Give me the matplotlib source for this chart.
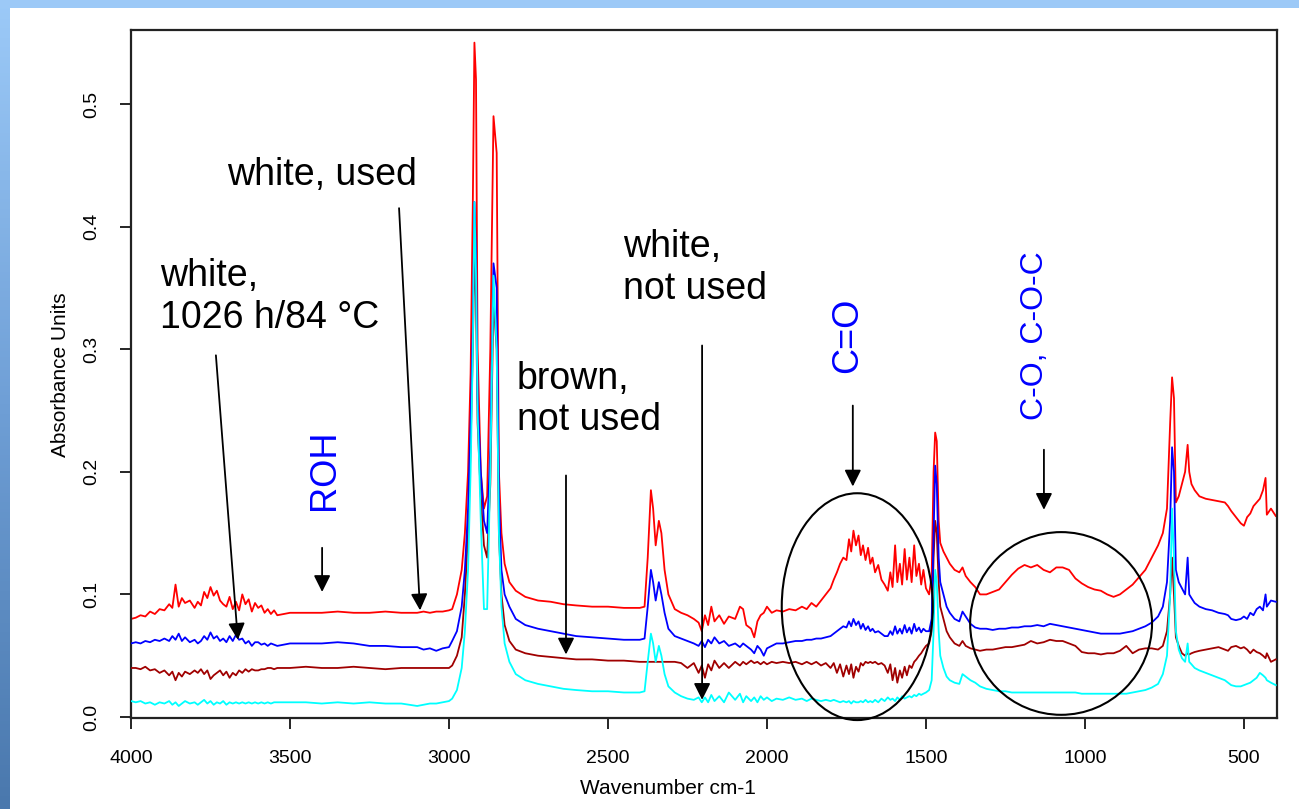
import numpy as np
import matplotlib
matplotlib.use("Agg")
import matplotlib.pyplot as plt
from matplotlib.patches import Ellipse, Rectangle
from matplotlib.colors import LinearSegmentedColormap

plt.rcParams['font.family'] = ['Liberation Sans', 'DejaVu Sans']

# wavenumber grid (cm-1)
wn = np.array([
    4000, 3985, 3970, 3955, 3940, 3925, 3910,
    3895, 3880, 3870, 3860, 3850, 3840, 3830,
    3815, 3800, 3790, 3780, 3770, 3760, 3750,
    3740, 3730, 3720, 3710, 3700, 3690, 3680,
    3670, 3660, 3650, 3640, 3630, 3620, 3610,
    3600, 3590, 3580, 3570, 3560, 3550, 3540,
    3500, 3450, 3400, 3350, 3300, 3250, 3200,
    3150, 3100, 3080, 3060, 3040, 3020, 3000,
    2990, 2975, 2960, 2950, 2940, 2932, 2925,
    2920, 2915, 2910, 2900, 2890, 2880, 2870,
    2860, 2850, 2843, 2835, 2825, 2810, 2790,
    2760, 2720, 2680, 2640, 2600, 2550, 2500,
    2450, 2400, 2385, 2375, 2365, 2358, 2350,
    2340, 2332, 2322, 2310, 2290, 2270, 2250,
    2230, 2215, 2205, 2195, 2185, 2175, 2165,
    2150, 2135, 2120, 2100, 2085, 2075, 2065,
    2050, 2040, 2030, 2020, 2010, 2000, 1985,
    1970, 1950, 1930, 1910, 1890, 1875, 1860,
    1845, 1830, 1815, 1800, 1790, 1780, 1770,
    1760, 1750, 1742, 1735, 1728, 1720, 1712,
    1705, 1698, 1690, 1682, 1675, 1668, 1660,
    1650, 1640, 1630, 1620, 1612, 1605, 1597,
    1590, 1582, 1575, 1567, 1560, 1552, 1545,
    1537, 1530, 1522, 1515, 1508, 1500, 1490,
    1482, 1476, 1471, 1466, 1460, 1455, 1445,
    1435, 1425, 1410, 1395, 1385, 1375, 1360,
    1345, 1330, 1310, 1290, 1270, 1250, 1230,
    1210, 1190, 1170, 1150, 1130, 1110, 1090,
    1070, 1050, 1030, 1010, 990, 970, 950,
    930, 910, 890, 870, 850, 830, 810,
    790, 770, 755, 742, 732, 726, 720,
    714, 705, 695, 685, 677, 672, 665,
    655, 640, 620, 600, 580, 560, 550,
    540, 525, 510, 500, 490, 480, 470,
    460, 450, 440, 432, 428, 415, 400,
])

# white, used
red = np.array([
    0.080, 0.081, 0.083, 0.082, 0.086, 0.084, 0.088,
    0.087, 0.092, 0.089, 0.108, 0.090, 0.097, 0.093,
    0.095, 0.089, 0.094, 0.091, 0.102, 0.097, 0.106,
    0.099, 0.103, 0.095, 0.092, 0.090, 0.098, 0.088,
    0.094, 0.087, 0.100, 0.092, 0.096, 0.086, 0.093,
    0.089, 0.091, 0.085, 0.088, 0.084, 0.087, 0.083,
    0.085, 0.085, 0.085, 0.086, 0.085, 0.085, 0.086,
    0.085, 0.085, 0.086, 0.085, 0.086, 0.086, 0.087,
    0.088, 0.100, 0.120, 0.150, 0.200, 0.280, 0.420,
    0.550, 0.520, 0.300, 0.200, 0.170, 0.180, 0.300,
    0.490, 0.460, 0.200, 0.150, 0.125, 0.110, 0.103,
    0.098, 0.095, 0.094, 0.092, 0.091, 0.090, 0.090,
    0.089, 0.089, 0.090, 0.130, 0.185, 0.170, 0.140,
    0.160, 0.150, 0.120, 0.100, 0.088, 0.085, 0.083,
    0.080, 0.077, 0.070, 0.083, 0.075, 0.090, 0.078,
    0.083, 0.076, 0.082, 0.080, 0.090, 0.088, 0.075,
    0.072, 0.065, 0.078, 0.083, 0.085, 0.090, 0.085,
    0.087, 0.086, 0.088, 0.087, 0.090, 0.088, 0.093,
    0.090, 0.095, 0.100, 0.105, 0.112, 0.118, 0.125,
    0.130, 0.128, 0.145, 0.135, 0.152, 0.140, 0.148,
    0.132, 0.140, 0.128, 0.138, 0.125, 0.130, 0.118,
    0.124, 0.112, 0.108, 0.103, 0.118, 0.106, 0.140,
    0.110, 0.125, 0.108, 0.137, 0.112, 0.130, 0.110,
    0.140, 0.115, 0.125, 0.108, 0.120, 0.105, 0.100,
    0.115, 0.200, 0.232, 0.225, 0.160, 0.142, 0.135,
    0.130, 0.125, 0.120, 0.118, 0.122, 0.115, 0.110,
    0.106, 0.100, 0.100, 0.102, 0.104, 0.110, 0.116,
    0.121, 0.124, 0.122, 0.124, 0.120, 0.118, 0.122,
    0.122, 0.120, 0.113, 0.109, 0.106, 0.104, 0.103,
    0.100, 0.098, 0.100, 0.104, 0.108, 0.114, 0.120,
    0.130, 0.140, 0.150, 0.170, 0.240, 0.277, 0.260,
    0.175, 0.180, 0.190, 0.200, 0.222, 0.200, 0.190,
    0.185, 0.180, 0.178, 0.177, 0.176, 0.175, 0.172,
    0.168, 0.163, 0.158, 0.156, 0.163, 0.166, 0.172,
    0.175, 0.178, 0.185, 0.195, 0.165, 0.170, 0.164,
])

# white, 1026 h/84 °C
blue = np.array([
    0.060, 0.061, 0.060, 0.062, 0.061, 0.063, 0.062,
    0.064, 0.062, 0.066, 0.063, 0.068, 0.062, 0.065,
    0.061, 0.063, 0.060, 0.062, 0.066, 0.063, 0.069,
    0.064, 0.066, 0.062, 0.064, 0.061, 0.066, 0.062,
    0.067, 0.063, 0.064, 0.060, 0.062, 0.058, 0.061,
    0.061, 0.059, 0.060, 0.058, 0.060, 0.059, 0.058,
    0.060, 0.060, 0.060, 0.061, 0.060, 0.058, 0.058,
    0.057, 0.057, 0.055, 0.056, 0.054, 0.056, 0.057,
    0.062, 0.070, 0.090, 0.120, 0.170, 0.240, 0.320,
    0.420, 0.380, 0.260, 0.200, 0.160, 0.150, 0.220,
    0.370, 0.350, 0.180, 0.120, 0.100, 0.090, 0.080,
    0.075, 0.072, 0.070, 0.068, 0.066, 0.065, 0.064,
    0.063, 0.063, 0.064, 0.090, 0.120, 0.110, 0.095,
    0.110, 0.100, 0.085, 0.072, 0.066, 0.064, 0.062,
    0.060, 0.058, 0.062, 0.057, 0.063, 0.060, 0.065,
    0.060, 0.062, 0.058, 0.060, 0.057, 0.060, 0.058,
    0.055, 0.052, 0.058, 0.055, 0.050, 0.056, 0.058,
    0.060, 0.060, 0.061, 0.062, 0.062, 0.063, 0.063,
    0.064, 0.064, 0.065, 0.066, 0.068, 0.070, 0.072,
    0.074, 0.073, 0.078, 0.074, 0.080, 0.075, 0.078,
    0.072, 0.076, 0.071, 0.074, 0.070, 0.072, 0.069,
    0.070, 0.068, 0.066, 0.066, 0.070, 0.067, 0.074,
    0.068, 0.072, 0.068, 0.075, 0.069, 0.073, 0.068,
    0.076, 0.070, 0.073, 0.069, 0.072, 0.070, 0.070,
    0.080, 0.150, 0.205, 0.190, 0.130, 0.110, 0.100,
    0.090, 0.085, 0.080, 0.078, 0.086, 0.082, 0.076,
    0.073, 0.072, 0.072, 0.071, 0.072, 0.072, 0.073,
    0.073, 0.074, 0.074, 0.075, 0.074, 0.076, 0.075,
    0.074, 0.073, 0.072, 0.071, 0.070, 0.069, 0.068,
    0.068, 0.068, 0.068, 0.069, 0.070, 0.072, 0.074,
    0.077, 0.082, 0.090, 0.110, 0.160, 0.220, 0.200,
    0.120, 0.110, 0.105, 0.100, 0.130, 0.100, 0.097,
    0.093, 0.090, 0.088, 0.087, 0.085, 0.084, 0.083,
    0.080, 0.079, 0.080, 0.082, 0.080, 0.085, 0.083,
    0.088, 0.090, 0.087, 0.100, 0.090, 0.095, 0.094,
])

# brown, not used
brown = np.array([
    0.040, 0.040, 0.039, 0.041, 0.038, 0.039, 0.036,
    0.038, 0.034, 0.037, 0.030, 0.036, 0.033, 0.037,
    0.035, 0.038, 0.036, 0.039, 0.035, 0.038, 0.031,
    0.034, 0.036, 0.038, 0.034, 0.037, 0.032, 0.036,
    0.034, 0.038, 0.036, 0.039, 0.037, 0.039, 0.038,
    0.038, 0.039, 0.039, 0.040, 0.040, 0.039, 0.040,
    0.040, 0.041, 0.040, 0.040, 0.041, 0.040, 0.039,
    0.040, 0.040, 0.040, 0.040, 0.040, 0.040, 0.040,
    0.042, 0.050, 0.065, 0.100, 0.150, 0.220, 0.300,
    0.380, 0.340, 0.240, 0.180, 0.140, 0.130, 0.190,
    0.340, 0.300, 0.150, 0.100, 0.075, 0.062, 0.055,
    0.052, 0.050, 0.049, 0.048, 0.047, 0.047, 0.046,
    0.046, 0.045, 0.045, 0.045, 0.045, 0.045, 0.045,
    0.045, 0.045, 0.045, 0.045, 0.045, 0.044, 0.040,
    0.044, 0.036, 0.042, 0.032, 0.043, 0.038, 0.046,
    0.040, 0.044, 0.040, 0.045, 0.042, 0.045, 0.043,
    0.046, 0.044, 0.045, 0.043, 0.045, 0.043, 0.045,
    0.044, 0.045, 0.044, 0.045, 0.043, 0.045, 0.043,
    0.045, 0.042, 0.044, 0.040, 0.044, 0.036, 0.043,
    0.033, 0.042, 0.035, 0.043, 0.032, 0.041, 0.037,
    0.044, 0.042, 0.045, 0.044, 0.045, 0.044, 0.045,
    0.043, 0.044, 0.042, 0.036, 0.043, 0.030, 0.040,
    0.028, 0.038, 0.032, 0.041, 0.034, 0.042, 0.040,
    0.045, 0.047, 0.050, 0.052, 0.055, 0.058, 0.060,
    0.070, 0.130, 0.160, 0.150, 0.110, 0.090, 0.080,
    0.070, 0.065, 0.060, 0.058, 0.062, 0.058, 0.056,
    0.055, 0.054, 0.055, 0.055, 0.056, 0.057, 0.057,
    0.058, 0.059, 0.062, 0.060, 0.061, 0.063, 0.062,
    0.062, 0.060, 0.058, 0.053, 0.052, 0.052, 0.051,
    0.052, 0.052, 0.054, 0.058, 0.052, 0.055, 0.056,
    0.056, 0.055, 0.058, 0.070, 0.100, 0.130, 0.100,
    0.065, 0.058, 0.052, 0.050, 0.052, 0.051, 0.052,
    0.053, 0.054, 0.055, 0.056, 0.057, 0.055, 0.054,
    0.057, 0.058, 0.056, 0.057, 0.055, 0.052, 0.055,
    0.053, 0.052, 0.050, 0.048, 0.052, 0.045, 0.047,
])

# white, not used
cyan = np.array([
    0.013, 0.012, 0.013, 0.011, 0.012, 0.010, 0.012,
    0.011, 0.013, 0.010, 0.012, 0.009, 0.011, 0.013,
    0.011, 0.012, 0.010, 0.012, 0.014, 0.011, 0.013,
    0.010, 0.012, 0.011, 0.013, 0.010, 0.012, 0.011,
    0.012, 0.011, 0.012, 0.011, 0.012, 0.011, 0.012,
    0.011, 0.012, 0.011, 0.012, 0.011, 0.012, 0.012,
    0.012, 0.012, 0.011, 0.012, 0.011, 0.012, 0.011,
    0.011, 0.009, 0.010, 0.011, 0.011, 0.012, 0.013,
    0.015, 0.022, 0.040, 0.070, 0.120, 0.200, 0.300,
    0.420, 0.360, 0.250, 0.160, 0.088, 0.088, 0.200,
    0.360, 0.300, 0.150, 0.090, 0.060, 0.045, 0.035,
    0.030, 0.027, 0.025, 0.023, 0.022, 0.021, 0.021,
    0.020, 0.020, 0.021, 0.045, 0.068, 0.060, 0.045,
    0.058, 0.050, 0.035, 0.025, 0.020, 0.017, 0.015,
    0.014, 0.016, 0.012, 0.016, 0.012, 0.018, 0.013,
    0.017, 0.012, 0.020, 0.014, 0.019, 0.012, 0.017,
    0.013, 0.016, 0.012, 0.017, 0.014, 0.016, 0.013,
    0.015, 0.014, 0.016, 0.014, 0.015, 0.013, 0.015,
    0.014, 0.013, 0.014, 0.013, 0.014, 0.013, 0.012,
    0.013, 0.012, 0.013, 0.011, 0.013, 0.012, 0.012,
    0.013, 0.012, 0.014, 0.012, 0.013, 0.012, 0.014,
    0.012, 0.015, 0.013, 0.016, 0.014, 0.015, 0.013,
    0.016, 0.014, 0.017, 0.015, 0.016, 0.017, 0.016,
    0.018, 0.017, 0.019, 0.018, 0.019, 0.020, 0.022,
    0.030, 0.070, 0.120, 0.110, 0.070, 0.050, 0.040,
    0.033, 0.030, 0.028, 0.027, 0.035, 0.033, 0.030,
    0.028, 0.025, 0.023, 0.022, 0.021, 0.021, 0.020,
    0.020, 0.020, 0.020, 0.020, 0.020, 0.020, 0.020,
    0.020, 0.020, 0.020, 0.019, 0.019, 0.019, 0.019,
    0.019, 0.019, 0.019, 0.019, 0.020, 0.021, 0.022,
    0.024, 0.027, 0.035, 0.050, 0.100, 0.170, 0.130,
    0.070, 0.055, 0.048, 0.045, 0.060, 0.045, 0.043,
    0.040, 0.038, 0.036, 0.034, 0.032, 0.030, 0.028,
    0.026, 0.025, 0.025, 0.026, 0.027, 0.028, 0.030,
    0.032, 0.036, 0.034, 0.032, 0.030, 0.028, 0.026,
])

xticks = [4000, 3500, 3000, 2500, 2000, 1500, 1000, 500]
yticks = [0.0, 0.1, 0.2, 0.3, 0.4, 0.5]

W, H = 1299, 809
fig = plt.figure(figsize=(W / 100, H / 100), dpi=100)

# blue slide frame (top strip + left gradient strip)
fig.patches.append(Rectangle((0, 1 - 8 / H), 1, 8 / H, transform=fig.transFigure,
                             facecolor='#9cc9f7', edgecolor='none', zorder=0))
bax = fig.add_axes([0, 0, 10 / W, 1])
grad = np.linspace(0, 1, 256).reshape(-1, 1)
bax.imshow(grad, aspect='auto',
           cmap=LinearSegmentedColormap.from_list('frame', ['#9ccaf8', '#6f9fd6', '#4a78ad']))
bax.axis('off')

ax = fig.add_axes([131 / W, 1 - 718 / H, (1277 - 131) / W, (718 - 30) / H])
ax.plot(wn, red, color='#ff0000', lw=1.3, zorder=2)
ax.plot(wn, brown, color='#a00000', lw=1.3, zorder=3)
ax.plot(wn, blue, color='#0000ff', lw=1.3, zorder=4)
ax.plot(wn, cyan, color='#00ffff', lw=1.3, zorder=5)

ax.set_xlim(4000, 396)
ax.set_ylim(-0.0008, 0.5603)
ax.set_xticks(xticks)
ax.set_xticklabels([str(t) for t in xticks])
ax.set_yticks(yticks)
ax.set_yticklabels(['%.1f' % t for t in yticks], rotation=90, va='center')
ax.tick_params(axis='x', direction='out', length=8, width=1.2, labelsize=14, pad=15)
ax.tick_params(axis='y', direction='out', length=8, width=1.2, labelsize=14, pad=14)
for s in ax.spines.values():
    s.set_linewidth(1.6)
    s.set_color('#222222')

fig.text(668 / W, 1 - 788 / H, 'Wavenumber cm-1', ha='center', va='center', fontsize=15)
fig.text(60 / W, 1 - 375 / H, 'Absorbance Units', ha='center', va='center',
         rotation=90, fontsize=15)

# black annotations
ax.text(3698, 0.442, 'white, used', fontsize=27, ha='left', va='center')
ax.text(3909, 0.3425, 'white,\n1026 h/84 \u00b0C', fontsize=27, ha='left', va='center')
ax.text(2786, 0.259, 'brown,\nnot used', fontsize=27, ha='left', va='center')
ax.text(2453, 0.366, 'white,\nnot used', fontsize=27, ha='left', va='center')

# blue band labels
ax.text(3390, 0.2015, 'ROH', fontsize=26, color='#0000ff', rotation=90,
        ha='center', va='center')
ax.text(1745, 0.3115, 'C=O', fontsize=26, color='#0000ff', rotation=90,
        ha='center', va='center')
ax.text(1157, 0.311, 'C-O, C-O-C', fontsize=23, color='#0000ff', rotation=90,
        ha='center', va='center')

arrows = [
    ((3733, 0.295), (3664, 0.063)),
    ((3157, 0.415), (3091, 0.087)),
    ((3399, 0.138), (3399, 0.102)),
    ((2632, 0.197), (2632, 0.051)),
    ((2204, 0.303), (2204, 0.014)),
    ((1730, 0.254), (1730, 0.188)),
    ((1129, 0.218), (1129, 0.169)),
]
for tail, tip in arrows:
    ax.annotate('', xy=tip, xytext=tail, zorder=6,
                arrowprops=dict(arrowstyle='-|>,head_length=0.5,head_width=0.25',
                                color='black', lw=1.3, mutation_scale=20,
                                shrinkA=0, shrinkB=0))

ax.add_patch(Ellipse((1716, 0.090), 475, 0.185, fill=False, edgecolor='black',
                     lw=1.5, clip_on=False, zorder=7))
ax.add_patch(Ellipse((1075, 0.0763), 572, 0.149, fill=False, edgecolor='black',
                     lw=1.5, clip_on=False, zorder=7))

fig.savefig('out.png', dpi=100)
